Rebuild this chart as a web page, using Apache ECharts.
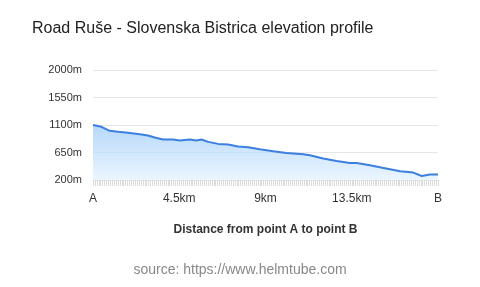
<!DOCTYPE html>
<html>
<head>
<meta charset="utf-8">
<script src="https://cdn.jsdelivr.net/npm/echarts@6/dist/echarts.min.js"></script>
<style>
html, body { margin: 0; padding: 0; background: #fff; }
#chart { width: 480px; height: 287px; }
</style>
</head>
<body>
<div id="chart"></div>
<script>
// distance along the road (km) and elevation (m)
const distanceKm = [0, 0.44, 0.87, 1.31, 1.83, 2.44, 2.87, 3.22, 3.66, 4.18, 4.53, 5.05, 5.4, 5.66,
  6.01, 6.53, 7.05, 7.57, 8.09, 8.7, 9.4, 10.1, 10.97, 11.32, 12.01, 12.71, 13.4, 13.75,
  14.45, 15.16, 16.03, 16.71, 17.15, 17.58, 18]
const elevationM = [1100, 1070, 1005, 988, 972, 950, 929, 896, 863, 863, 847, 863, 847, 863,
  824, 791, 781, 748, 737, 704, 671, 643, 622, 606, 551, 512, 479, 479,
  441, 397, 343, 321, 266, 289, 289]
const totalKm = 18
const yTicks = [200, 650, 1100, 1550, 2000]

let chart = echarts.init(document.getElementById('chart'))
let font = '"Liberation Sans", Arial, sans-serif'

let chartOpt = {
  animation: false,
  textStyle: { fontFamily: font },
  title: [{
    text: 'Road Ruše - Slovenska Bistrica elevation profile',
    left: 27,
    top: 16,
    textStyle: { fontSize: 16, fontWeight: 'normal', color: '#222', fontFamily: font }
  }, {
    text: 'source: https://www.helmtube.com',
    left: 'center',
    top: 258,
    textStyle: { fontSize: 14, fontWeight: 'normal', color: '#888', fontFamily: font }
  }],
  grid: { left: 93, right: 42, top: 70, bottom: 107 },
  xAxis: {
    type: 'value',
    min: 0,
    max: totalKm,
    interval: totalKm / 4,
    name: 'Distance from point A to point B',
    nameLocation: 'middle',
    nameGap: 44,
    nameTextStyle: { fontSize: 12, fontWeight: 'bold', color: '#333' },
    axisLine: { show: true, lineStyle: { color: '#e6e6e6' } },
    axisTick: { show: true, length: 6, lineStyle: { color: '#dcdcdc' } },
    minorTick: { show: true, splitNumber: 45, length: 6, lineStyle: { color: '#dcdcdc' } },
    splitLine: { show: false },
    axisLabel: {
      margin: 13,
      fontSize: 12,
      color: '#333',
      formatter: function (v) {
        if (v === 0) return 'A'
        if (v === totalKm) return 'B'
        return v + 'km'
      }
    }
  },
  yAxis: {
    type: 'value',
    min: yTicks[0],
    max: yTicks[yTicks.length - 1],
    interval: yTicks[1] - yTicks[0],
    axisLine: { show: false },
    axisTick: { show: false },
    splitLine: { lineStyle: { color: '#e6e6e6' } },
    axisLabel: { margin: 11, fontSize: 11, color: '#333', formatter: function (v) { return v + 'm' } }
  },
  series: [{
    type: 'line',
    data: distanceKm.map((d, i) => [d, elevationM[i]]),
    showSymbol: false,
    lineStyle: { color: '#3c7fe0', width: 2 },
    areaStyle: {
      color: new echarts.graphic.LinearGradient(0, 0, 0, 1, [
        { offset: 0, color: '#96c8f7' },
        { offset: 1, color: '#e2f0fd' }
      ])
    }
  }]
}

chart.setOption(chartOpt)
</script>
</body>
</html>
